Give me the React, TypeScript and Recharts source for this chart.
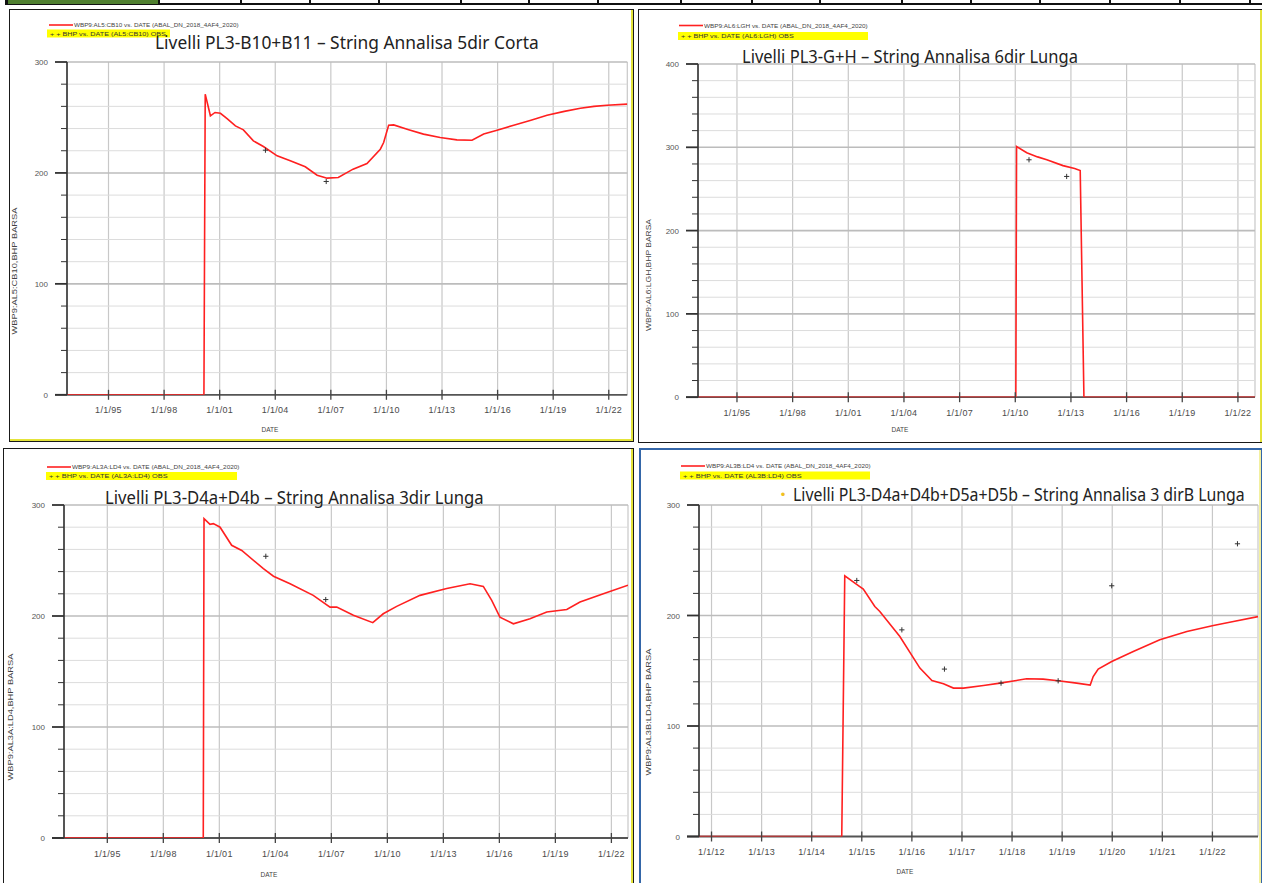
import React, { useLayoutEffect, useRef, useState } from 'react';
import { ComposedChart, Line, Scatter, XAxis, YAxis, CartesianGrid } from 'recharts';

// ---------- tick labels ----------
const longTicks = [1995, 1998, 2001, 2004, 2007, 2010, 2013, 2016, 2019, 2022];
const longTickLabels = ['1/1/95', '1/1/98', '1/1/01', '1/1/04', '1/1/07', '1/1/10', '1/1/13', '1/1/16', '1/1/19', '1/1/22'];
const shortTicks = [2012, 2013, 2014, 2015, 2016, 2017, 2018, 2019, 2020, 2021, 2022];
const shortTickLabels = ['1/1/12', '1/1/13', '1/1/14', '1/1/15', '1/1/16', '1/1/17', '1/1/18', '1/1/19', '1/1/20', '1/1/21', '1/1/22'];
const yTicks300 = [0, 20, 40, 60, 80, 100, 120, 140, 160, 180, 200, 220, 240, 260, 280, 300];
const yTicks400 = [0, 20, 40, 60, 80, 100, 120, 140, 160, 180, 200, 220, 240, 260, 280, 300, 320, 340, 360, 380, 400];
const yMajor300 = [100, 200, 300];
const yMajor400 = [100, 200, 300, 400];

// ---------- chart 1: PL3-B10+B11 ----------
const c1SimYears = [1992.76, 2000.15, 2000.22, 2000.5, 2000.75, 2001.04, 2001.4, 2001.85, 2002.28, 2002.82, 2003.36, 2004.1, 2004.81, 2005.62, 2006.26, 2006.8, 2007.4, 2008.2, 2008.95, 2009.67, 2009.85, 2010.12, 2010.39, 2011.2, 2012.0, 2012.9, 2013.8, 2014.62, 2015.25, 2015.97, 2016.87, 2017.8, 2018.67, 2019.6, 2020.47, 2021.2, 2021.9, 2023.0];
const c1SimBhp = [0, 0, 271, 251.5, 254.5, 253.8, 249, 242.4, 238.8, 228.9, 223.8, 215.4, 210.9, 205.5, 198, 195.3, 195.9, 203.4, 208.5, 221.4, 227.4, 243, 243.3, 239, 235, 231.9, 229.8, 229.5, 235, 238.5, 243, 247.5, 252, 255.5, 258.3, 260, 261, 262];
const c1ObsYears = [2003.47, 2006.75];
const c1ObsBhp = [220.5, 192.3];

// ---------- chart 2: PL3-G+H ----------
const c2SimYears = [1992.9, 2010.03, 2010.07, 2010.62, 2011.2, 2011.7, 2012.57, 2013.2, 2013.5, 2013.7, 2022.92];
const c2SimBhp = [0, 0, 301, 293.5, 288.5, 285, 278, 274.5, 272, 0, 0];
const c2ObsYears = [2010.74, 2012.77];
const c2ObsBhp = [285, 265];

// ---------- chart 3: PL3-D4a+D4b ----------
const c3SimYears = [1992.68, 2000.14, 2000.18, 2000.5, 2000.68, 2001.04, 2001.66, 2002.2, 2003.36, 2003.9, 2004.79, 2006.03, 2006.93, 2007.29, 2008.18, 2009.22, 2009.78, 2010.5, 2011.75, 2013.18, 2014.43, 2015.14, 2015.59, 2016.03, 2016.75, 2017.64, 2018.54, 2019.61, 2020.32, 2021.57, 2022.89];
const c3SimBhp = [0, 0, 287.7, 282.6, 283.2, 280, 263.7, 259, 242.7, 235.8, 229, 218.6, 208, 208, 200.6, 194, 202, 208.7, 218.6, 224.7, 229, 226.7, 214, 199, 193, 197.6, 203.6, 205.8, 212.6, 220, 227.7];
const c3ObsYears = [2003.49, 2006.7];
const c3ObsBhp = [253.8, 214.8];

// ---------- chart 4: PL3-D4a+D4b+D5a+D5b ----------
const c4SimYears = [2011.75, 2014.6, 2014.66, 2014.96, 2015.03, 2015.26, 2015.36, 2015.76, 2016.16, 2016.4, 2016.63, 2016.83, 2017.03, 2017.43, 2017.76, 2018.29, 2018.62, 2018.92, 2019.29, 2019.56, 2019.62, 2019.72, 2019.99, 2020.42, 2020.95, 2021.49, 2022.02, 2022.42, 2022.91];
const c4SimBhp = [0, 0, 235.9, 226.2, 223.9, 208.1, 203.6, 181, 152.4, 141.2, 138.2, 134.3, 134.3, 136.7, 138.8, 142.7, 142.4, 140.9, 138.8, 137, 144.8, 151.5, 158.4, 167.4, 178, 185.5, 191, 194.6, 199];
const c4ObsYears = [2014.9, 2015.8, 2016.65, 2017.78, 2018.92, 2019.99, 2022.5];
const c4ObsBhp = [231.7, 187, 151.5, 138.8, 140.9, 226.9, 264.9];

const zip = (ts: number[], vs: number[]) => ts.map((t, i) => ({ t, v: vs[i] }));

type Spec = {
  plot: { l: number; r: number; t: number; b: number };
  domain: [number, number];
  xTicks: number[];
  xLabels: string[];
  yTicks: number[];
  yMajor: number[];
  yMax: number;
  sim: { t: number; v: number }[];
  obs: { t: number; v: number }[];
};

const specs: Spec[] = [
  { plot: { l: 66.7, r: 627, t: 61.5, b: 394.3 }, domain: [1992.76, 2023.0], xTicks: longTicks, xLabels: longTickLabels, yTicks: yTicks300, yMajor: yMajor300, yMax: 300, sim: zip(c1SimYears, c1SimBhp), obs: zip(c1ObsYears, c1ObsBhp) },
  { plot: { l: 698, r: 1255, t: 63.5, b: 396.7 }, domain: [1992.9, 2022.92], xTicks: longTicks, xLabels: longTickLabels, yTicks: yTicks400, yMajor: yMajor400, yMax: 400, sim: zip(c2SimYears, c2SimBhp), obs: zip(c2ObsYears, c2ObsBhp) },
  { plot: { l: 64, r: 628, t: 504.7, b: 837.7 }, domain: [1992.68, 2022.89], xTicks: longTicks, xLabels: longTickLabels, yTicks: yTicks300, yMajor: yMajor300, yMax: 300, sim: zip(c3SimYears, c3SimBhp), obs: zip(c3ObsYears, c3ObsBhp) },
  { plot: { l: 699, r: 1258, t: 505.2, b: 836.7 }, domain: [2011.75, 2022.91], xTicks: shortTicks, xLabels: shortTickLabels, yTicks: yTicks300, yMajor: yMajor300, yMax: 300, sim: zip(c4SimYears, c4SimBhp), obs: zip(c4ObsYears, c4ObsBhp) },
];

const FONT = 'Liberation Sans, Arial, sans-serif';

const YTick = (props: any) => {
  const { x, y, payload } = props;
  const major = payload.value % 100 === 0;
  return (
    <g>
      <line x1={x - (major ? 12 : 6)} x2={x} y1={y} y2={y} stroke="#333" strokeWidth={major ? 1.8 : 1} />
      {major && (
        <text x={x - 19} y={y + 3} textAnchor="end" fontSize={8} fill="#555" fontFamily={FONT}>
          {payload.value}
        </text>
      )}
    </g>
  );
};

const makeXTick = (ticks: number[], labels: string[]) => (props: any) => {
  const { x, y, payload } = props;
  const i = ticks.indexOf(payload.value);
  return (
    <g>
      <line x1={x} x2={x} y1={y - 5} y2={y + 5} stroke="#444" strokeWidth={1.3} />
      <text x={x} y={y + 18.5} textAnchor="middle" fontSize={9} fill="#4a4a4a" fontFamily={FONT} letterSpacing={0.3}>
        {labels[i]}
      </text>
    </g>
  );
};

const Cross = (props: any) => {
  const { cx, cy } = props;
  return (
    <g>
      <line x1={cx - 2.6} x2={cx + 2.6} y1={cy} y2={cy} stroke="#333" strokeWidth={1} />
      <line x1={cx} x2={cx} y1={cy - 2.6} y2={cy + 2.6} stroke="#333" strokeWidth={1} />
    </g>
  );
};

const PAD_T = 12;

// horizontal grid line renderer: minor lines light, 100-multiples darker, the 0 line is the dark x axis
const makeHLine = (plotH: number, yMax: number, majors: number[]) => (p: any) => {
  const { x1, x2, y1, y2, index } = p;
  const bottom = PAD_T + plotH;
  const key = p.key ?? `h-${index}-${y1}`;
  if (Math.abs(y1 - bottom) < 0.8) {
    return <line key={key} x1={x1 - 12} x2={x2} y1={y1} y2={y2} stroke="#555" strokeWidth={1.8} />;
  }
  const isMajor = majors.some((v) => Math.abs(y1 - (PAD_T + (1 - v / yMax) * plotH)) < 0.8);
  return <line key={key} x1={x1} x2={x2} y1={y1} y2={y2} stroke={isMajor ? '#bcbcbc' : '#dcdcdc'} strokeWidth={isMajor ? 1.6 : 1} />;
};

function Chart({ spec }: { spec: Spec }) {
  const { l, r, t, b } = spec.plot;
  const padL = 60, padT = PAD_T, padR = 6, padB = 40, axisH = 25;
  const width = r - l + padL + padR;
  const height = b - t + padT + padB;
  return (
    <div style={{ position: 'absolute', left: l - padL, top: t - padT, width, height }}>
      <ComposedChart width={width} height={height} margin={{ top: padT, right: padR, bottom: padB - axisH, left: 0 }} style={{ overflow: 'visible' }}>
        <CartesianGrid horizontal={false} vertical={true} stroke="#c8c8c8" strokeWidth={1.2} />
        <CartesianGrid horizontal={makeHLine(b - t, spec.yMax, spec.yMajor)} vertical={false} stroke="#dcdcdc" />
        <XAxis
          type="number"
          dataKey="t"
          domain={spec.domain}
          ticks={spec.xTicks}
          interval={0}
          allowDataOverflow
          height={axisH}
          tickSize={0}
          tickMargin={0}
          tickLine={false}
          axisLine={false}
          tick={makeXTick(spec.xTicks, spec.xLabels)}
        />
        <YAxis
          type="number"
          domain={[0, spec.yMax]}
          ticks={spec.yTicks}
          interval={0}
          allowDataOverflow
          width={padL}
          tickSize={0}
          tickMargin={0}
          tickLine={false}
          axisLine={{ stroke: '#333', strokeWidth: 1.6 }}
          tick={<YTick />}
        />
        <Line data={spec.sim} dataKey="v" type="linear" stroke="#ff2020" strokeWidth={1.6} dot={false} activeDot={false} isAnimationActive={false} />
        <Scatter data={spec.obs} dataKey="v" shape={<Cross />} isAnimationActive={false} />
      </ComposedChart>
    </div>
  );
}

// text squeezed horizontally to a measured width, so its box matches what is drawn
function FitText(props: { x: number; y: number; len: number; size: number; fill: string; family: string; rotate?: boolean; anchor?: string; children: React.ReactNode }) {
  const { x, y, len, size, fill, family, rotate, anchor, children } = props;
  const ref = useRef<SVGTextElement>(null);
  const [s, setS] = useState(1);
  useLayoutEffect(() => {
    if (ref.current) {
      const w = ref.current.getComputedTextLength();
      if (w > 0) setS(len / w);
    }
  }, [len]);
  const tf = rotate ? `translate(${x} ${y}) rotate(-90) scale(${s} 1)` : `translate(${x} ${y}) scale(${s} 1)`;
  return (
    <text ref={ref} x={0} y={0} transform={tf} fontSize={size} fill={fill} fontFamily={family} textAnchor={anchor as any}>
      {children}
    </text>
  );
}

const stripCells: [number, number][] = [
  [160, 240], [242, 309], [311, 378], [380, 460], [462, 528], [530, 597], [599, 680], [682, 751], [753, 819],
  [821, 901], [903, 970], [972, 1039], [1041, 1109], [1111, 1179], [1181, 1249], [1251, 1262],
];

type Deco = {
  legendY: number; legendX: number; legendLen: number; legendText: string;
  bandY: number; bandX: number; bandW: number; obsLen: number; obsText: string;
  title: string; titleX: number; titleY: number; titleLen: number;
  yLabel: string; yLabelX: number; yLabelY: number; yLabelLen: number;
  dateX: number; dateY: number;
};

const decos: Deco[] = [
  { legendY: 25, legendX: 49, legendLen: 165, legendText: 'WBP9:AL5:CB10  vs.  DATE (ABAL_DN_2018_4AF4_2020)', bandY: 29.5, bandX: 47, bandW: 123, obsLen: 116, obsText: '+ +    BHP   vs.  DATE (AL5:CB10) OBS',
    title: 'Livelli PL3-B10+B11 – String Annalisa 5dir Corta', titleX: 155, titleY: 49, titleLen: 384,
    yLabel: 'WBP9:AL5:CB10,BHP    BARSA', yLabelX: 17, yLabelY: 271, yLabelLen: 127, dateX: 270, dateY: 432 },
  { legendY: 25.5, legendX: 679, legendLen: 164, legendText: 'WBP9:AL6:LGH  vs.  DATE (ABAL_DN_2018_4AF4_2020)', bandY: 32, bandX: 678, bandW: 190, obsLen: 113, obsText: '+ +    BHP   vs.  DATE (AL6:LGH) OBS',
    title: 'Livelli PL3-G+H – String Annalisa 6dir Lunga', titleX: 742, titleY: 63, titleLen: 336,
    yLabel: 'WBP9:AL6:LGH,BHP    BARSA', yLabelX: 651, yLabelY: 275, yLabelLen: 112, dateX: 900, dateY: 432 },
  { legendY: 467, legendX: 47, legendLen: 168, legendText: 'WBP9:AL3A:LD4  vs.  DATE (ABAL_DN_2018_4AF4_2020)', bandY: 472, bandX: 46, bandW: 191, obsLen: 119, obsText: '+ +    BHP   vs.  DATE (AL3A:LD4) OBS',
    title: 'Livelli PL3-D4a+D4b – String Annalisa 3dir Lunga', titleX: 105, titleY: 504, titleLen: 379,
    yLabel: 'WBP9:AL3A:LD4,BHP    BARSA', yLabelX: 13, yLabelY: 717, yLabelLen: 127, dateX: 269, dateY: 877 },
  { legendY: 466, legendX: 681, legendLen: 165, legendText: 'WBP9:AL3B:LD4  vs.  DATE (ABAL_DN_2018_4AF4_2020)', bandY: 471.5, bandX: 680, bandW: 190, obsLen: 119, obsText: '+ +    BHP   vs.  DATE (AL3B:LD4) OBS',
    title: 'Livelli PL3-D4a+D4b+D5a+D5b  – String Annalisa 3 dirB Lunga', titleX: 793, titleY: 501, titleLen: 452,
    yLabel: 'WBP9:AL3B:LD4,BHP    BARSA', yLabelX: 651, yLabelY: 712, yLabelLen: 127, dateX: 905, dateY: 874 },
];

const panelStyle = (left: number, top: number, right: number, bottom: number, color: string, inner: string): React.CSSProperties => ({
  position: 'absolute', left, top, width: right - left, height: bottom - top, boxSizing: 'border-box',
  border: `1.5px solid ${color}`, boxShadow: inner, background: '#fff',
});

export default function App() {
  return (
    <div style={{ position: 'absolute', left: 0, top: 0, width: 1262, height: 883, overflow: 'hidden', background: '#fff', fontFamily: FONT }}>
      {/* top table strip */}
      <div style={{ position: 'absolute', left: 5, top: 0, width: 1257, height: 5, background: '#111' }} />
      <div style={{ position: 'absolute', left: 8, top: 0, width: 150, height: 3.5, background: '#4f7f2f' }} />
      {stripCells.map(([a, z], i) => (
        <div key={i} style={{ position: 'absolute', left: a, top: 0, width: z - a, height: 3, background: '#fff' }} />
      ))}

      {/* panels */}
      <div style={panelStyle(9, 8.5, 633.5, 442, '#1a1a1a', 'inset -2px -2px 0 #e4e43a')} />
      <div style={panelStyle(637.5, 8.5, 1263, 443, '#1a1a1a', 'inset -2px 0 0 #e4e43a')} />
      <div style={panelStyle(2.5, 448, 633.5, 890, '#1a1a1a', 'inset -2px 0 0 #e4e43a')} />
      <div style={{ ...panelStyle(639, 448, 1263, 890, '#3466a8', 'inset -2px 0 0 #f3f0a0'), borderWidth: 2 }} />

      {specs.map((s, i) => (
        <Chart key={i} spec={s} />
      ))}

      <svg width={1262} height={883} style={{ position: 'absolute', left: 0, top: 0, pointerEvents: 'none' }}>
        {decos.map((d, i) => (
          <g key={i}>
            <line x1={d.legendX} x2={d.legendX + 24} y1={d.legendY} y2={d.legendY} stroke="#ff2020" strokeWidth={1.6} />
            <FitText x={d.legendX + 25} y={d.legendY + 2} len={d.legendLen} size={5.5} fill="#444" family={FONT}>
              {d.legendText}
            </FitText>
            <rect x={d.bandX} y={d.bandY} width={d.bandW} height={8} fill="#ffff00" />
            <FitText x={d.bandX + 3} y={d.bandY + 6} len={d.obsLen} size={5.5} fill="#333" family={FONT}>
              {d.obsText}
            </FitText>
            <FitText x={d.titleX} y={d.titleY} len={d.titleLen} size={18} fill="#222" family="Noto Sans, Open Sans, sans-serif">
              {d.title}
            </FitText>
            <FitText x={d.yLabelX} y={d.yLabelY} len={d.yLabelLen} size={6.5} fill="#444" family={FONT} rotate anchor="middle">
              {d.yLabel}
            </FitText>
            <text x={d.dateX} y={d.dateY} fontSize={6.5} fill="#444" fontFamily={FONT} textAnchor="middle">
              DATE
            </text>
          </g>
        ))}
        <text x={783} y={499} fontSize={13} fill="#f0c020" fontFamily={FONT} textAnchor="middle">•</text>
      </svg>
    </div>
  );
}
